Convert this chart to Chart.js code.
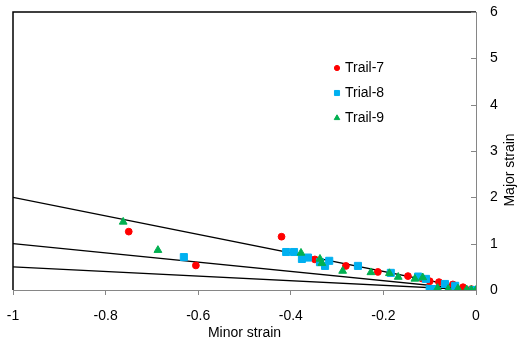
<!DOCTYPE html>
<html>
<head>
<meta charset="utf-8">
<script src="https://cdn.jsdelivr.net/npm/chart.js@4/dist/chart.umd.min.js"></script>
<style>
  body { margin: 0; background: #fff; }
</style>
</head>
<body>
<canvas id="myChart" width="517" height="339"></canvas>
<script>
// scatter data (minor strain, major strain)
const trail7 = [
  {x: -0.75, y: 1.26}, {x: -0.605, y: 0.53}, {x: -0.42, y: 1.15}, {x: -0.348, y: 0.66},
  {x: -0.281, y: 0.52}, {x: -0.212, y: 0.39}, {x: -0.147, y: 0.30}, {x: -0.117, y: 0.25},
  {x: -0.10, y: 0.19}, {x: -0.08, y: 0.17}, {x: -0.05, y: 0.12}, {x: -0.028, y: 0.06},
  {x: -0.01, y: 0.02}
];
const trial8 = [
  {x: -0.631, y: 0.71}, {x: -0.41, y: 0.82}, {x: -0.393, y: 0.82}, {x: -0.376, y: 0.67},
  {x: -0.363, y: 0.70}, {x: -0.337, y: 0.60}, {x: -0.326, y: 0.52}, {x: -0.317, y: 0.63},
  {x: -0.255, y: 0.52}, {x: -0.184, y: 0.37}, {x: -0.125, y: 0.29}, {x: -0.108, y: 0.24},
  {x: -0.067, y: 0.13}, {x: -0.045, y: 0.09}, {x: -0.10, y: 0.02}, {x: -0.09, y: 0.02},
  {x: -0.006, y: 0.0}
];
const trail9 = [
  {x: -0.762, y: 1.47}, {x: -0.687, y: 0.86}, {x: -0.378, y: 0.80}, {x: -0.337, y: 0.67},
  {x: -0.333, y: 0.58}, {x: -0.288, y: 0.41}, {x: -0.227, y: 0.38}, {x: -0.187, y: 0.36},
  {x: -0.168, y: 0.28}, {x: -0.132, y: 0.24}, {x: -0.115, y: 0.27}, {x: -0.083, y: 0.04},
  {x: -0.06, y: 0.02}, {x: -0.039, y: 0.03}, {x: -0.02, y: 0.01}, {x: -0.01, y: 0.0},
  {x: 0, y: 0}
];
// the three reference lines through the origin
const line1 = [{x: -1, y: 2}, {x: 0, y: 0}];
const line2 = [{x: -1, y: 1}, {x: 0, y: 0}];
const line3 = [{x: -1, y: 0.5}, {x: 0, y: 0}];

const xTicks = [-1, -0.8, -0.6, -0.4, -0.2, 0];
const yTicks = [0, 1, 2, 3, 4, 5, 6];

const FONT = '"Liberation Sans", Arial, sans-serif';
const AXIS_GREY = '#868686';

const legendItems = [
  {text: 'Trail-7', color: '#ff0000', style: 'circle', r: 2.6},
  {text: 'Trial-8', color: '#00b0f0', style: 'rect', r: 3.6},
  {text: 'Trail-9', color: '#00b050', style: 'triangle', r: 3.2}
];

const extras = {
  id: 'extras',
  afterDraw(chart) {
    const ctx = chart.ctx;
    const a = chart.chartArea;
    const y = chart.scales.y;
    ctx.save();
    // black top and left frame
    ctx.strokeStyle = '#000';
    ctx.lineWidth = 1.5;
    ctx.beginPath();
    ctx.moveTo(a.left, a.bottom);
    ctx.lineTo(a.left, a.top);
    ctx.lineTo(a.right, a.top);
    ctx.stroke();
    // inward tick marks on the right axis
    ctx.strokeStyle = AXIS_GREY;
    ctx.lineWidth = 1;
    yTicks.forEach(v => {
      const py = Math.round(y.getPixelForValue(v)) + 0.5;
      ctx.beginPath();
      ctx.moveTo(a.right - 5, py);
      ctx.lineTo(a.right, py);
      ctx.stroke();
    });
    // y title, reading upward
    ctx.fillStyle = '#000';
    ctx.font = '14px ' + FONT;
    ctx.textAlign = 'center';
    ctx.textBaseline = 'middle';
    ctx.translate(510, 170);
    ctx.rotate(-Math.PI / 2);
    ctx.fillText('Major strain', 0, 0);
    ctx.restore();

    // legend
    ctx.save();
    ctx.font = '14px ' + FONT;
    ctx.textBaseline = 'middle';
    ctx.textAlign = 'left';
    legendItems.forEach((item, i) => {
      const ly = 68 + i * 25;
      ctx.fillStyle = item.color;
      ctx.strokeStyle = item.color;
      Chart.helpers.drawPoint(ctx, {pointStyle: item.style, radius: item.r, rotation: 0, borderWidth: 1}, 337, ly);
      ctx.fillStyle = '#000';
      ctx.fillText(item.text, 345, ly);
    });
    ctx.restore();
  }
};

const lineStyle = {
  type: 'line',
  borderColor: '#000',
  borderWidth: 1.3,
  pointRadius: 0,
  fill: false,
  order: 3
};

var ctx = document.getElementById('myChart');

var myChart = new Chart(ctx, {
  type: 'scatter',
  data: {
    datasets: [
      {label: 'Trail-9', data: trail9, pointStyle: 'triangle', pointRadius: 4.5,
       backgroundColor: '#00b050', borderColor: '#00b050', borderWidth: 1, order: 0},
      {label: 'Trial-8', data: trial8, pointStyle: 'rect', pointRadius: 5,
       backgroundColor: '#00b0f0', borderColor: '#00b0f0', borderWidth: 1, order: 1},
      {label: 'Trail-7', data: trail7, pointStyle: 'circle', pointRadius: 3.4,
       backgroundColor: '#ff0000', borderColor: '#ff0000', borderWidth: 1, order: 2},
      Object.assign({label: 'l1', data: line1}, lineStyle),
      Object.assign({label: 'l2', data: line2}, lineStyle),
      Object.assign({label: 'l3', data: line3}, lineStyle)
    ]
  },
  options: {
    responsive: false,
    animation: false,
    devicePixelRatio: 1,
    layout: {padding: {left: 13, top: 12, right: 0, bottom: 0}},
    plugins: {
      legend: {display: false},
      tooltip: {enabled: false}
    },
    scales: {
      x: {
        type: 'linear',
        position: 'bottom',
        min: -1,
        max: 0,
        afterBuildTicks: s => { s.ticks = xTicks.map(v => ({value: v})); },
        afterFit: s => { s.height = 49; s.paddingLeft = 0; s.paddingRight = 0; },
        ticks: {
          color: '#000',
          font: {family: FONT, size: 14},
          padding: 13,
          maxRotation: 0,
          callback: v => String(Number(v.toFixed(1)))
        },
        grid: {drawOnChartArea: false, drawTicks: true, tickLength: 5, color: AXIS_GREY},
        border: {display: true, color: AXIS_GREY, width: 1},
        title: {display: true, text: 'Minor strain', color: '#000',
                font: {family: FONT, size: 14}, padding: {top: 0, bottom: -3}}
      },
      y: {
        type: 'linear',
        position: 'right',
        min: 0,
        max: 6,
        afterBuildTicks: s => { s.ticks = yTicks.map(v => ({value: v})); },
        afterFit: s => { s.width = 41; s.paddingTop = 0; s.paddingBottom = 0; },
        ticks: {
          color: '#000',
          font: {family: FONT, size: 14},
          padding: 14
        },
        grid: {drawOnChartArea: false, drawTicks: false},
        border: {display: true, color: AXIS_GREY, width: 1}
      }
    }
  },
  plugins: [extras]
});
</script>
</body>
</html>
